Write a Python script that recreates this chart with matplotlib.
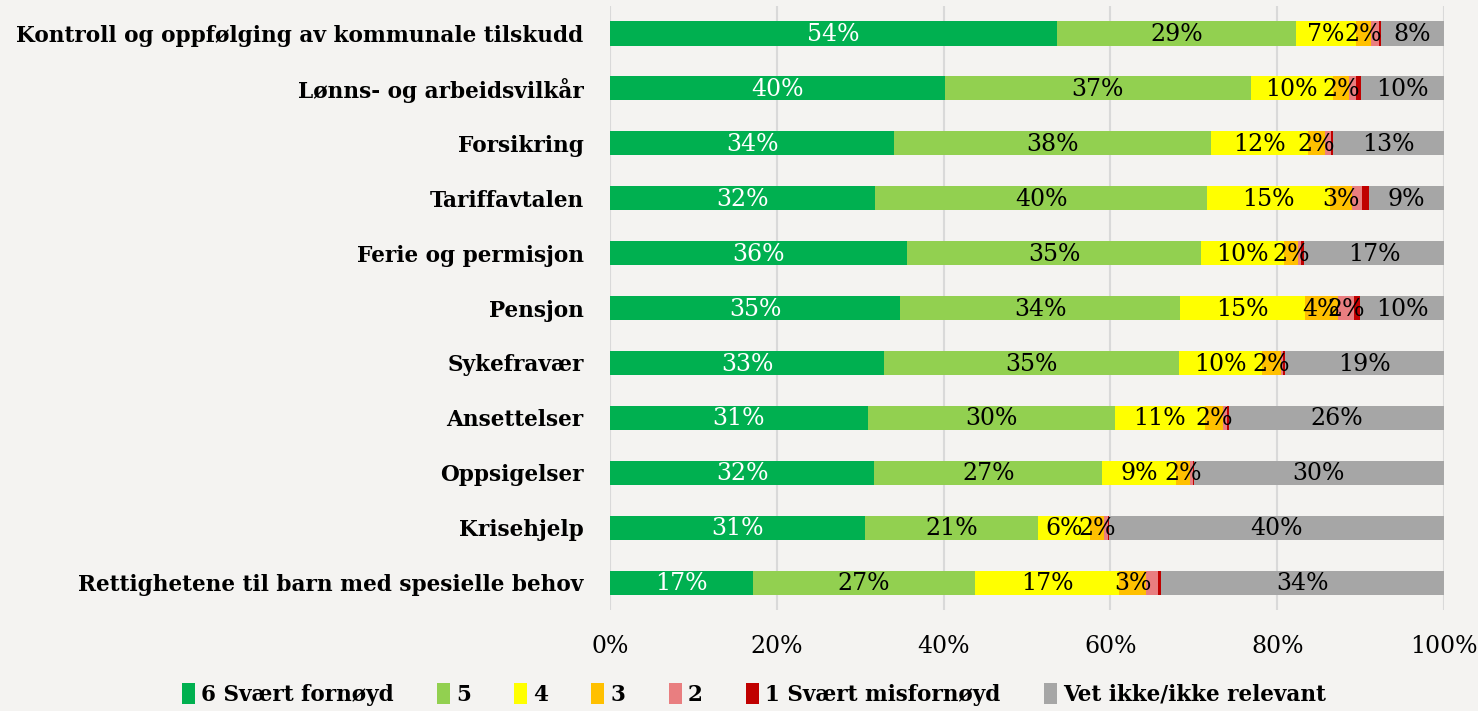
import matplotlib
matplotlib.use('Agg')
import matplotlib.pyplot as plt
import numpy as np

categories = [
    'Kontroll og oppfølging av kommunale tilskudd',
    'Lønns- og arbeidsvilkår',
    'Forsikring',
    'Tariffavtalen',
    'Ferie og permisjon',
    'Pensjon',
    'Sykefravær',
    'Ansettelser',
    'Oppsigelser',
    'Krisehjelp',
    'Rettighetene til barn med spesielle behov',
]

series_names = ['6 Svært fornøyd', '5', '4', '3', '2', '1 Svært misfornøyd', 'Vet ikke/ikke relevant']

# percentages per category, one list per series
s6 = [53.6, 40.2, 34.1, 31.8, 35.6, 34.8, 32.9, 30.9, 31.7, 30.6, 17.1]
s5 = [28.6, 36.6, 38.0, 39.8, 35.3, 33.6, 35.3, 29.6, 27.3, 20.7, 26.7]
s4 = [7.2, 9.9, 11.6, 14.7, 9.9, 14.9, 10.0, 10.8, 8.9, 6.3, 17.2]
s3 = [1.8, 1.9, 2.0, 2.7, 1.7, 4.0, 2.2, 2.2, 1.6, 1.6, 3.3]
s2 = [1.0, 0.8, 0.8, 1.2, 0.3, 1.9, 0.3, 0.5, 0.4, 0.5, 1.4]
s1 = [0.2, 0.7, 0.2, 0.8, 0.4, 0.7, 0.2, 0.2, 0.1, 0.1, 0.4]
vet_ikke = [7.6, 9.9, 13.3, 9.0, 16.8, 10.1, 19.1, 25.8, 30.0, 40.2, 33.9]

colors = ['#00B050', '#92D050', '#FFFF00', '#FFC000', '#E97E80', '#C00000', '#A6A6A6']
text_colors = ['white', 'black', 'black', 'black', 'black', 'black', 'black']

all_series = [s6, s5, s4, s3, s2, s1, vet_ikke]

bg = '#F4F3F1'
fig = plt.figure(figsize=(14.78, 7.11), dpi=100, facecolor=bg)
ax = fig.add_axes([0.4127, 0.142, 0.5643, 0.8495], facecolor=bg)

y = np.arange(len(categories))
left = np.zeros(len(categories))
for name, vals, col, tcol in zip(series_names, all_series, colors, text_colors):
    vals = np.array(vals)
    ax.barh(y, vals, left=left, height=0.44, color=col, label=name, zorder=3)
    for yi, (l, v) in enumerate(zip(left, vals)):
        if v >= 1.5:
            ax.text(l + v / 2, yi + 0.02, f'{v:.0f}%', ha='center', va='center',
                    color=tcol, fontsize=17, family='DejaVu Serif', zorder=4)
    left += vals

ax.set_xlim(0, 100)
ax.set_ylim(len(categories) - 0.5, -0.5)
ax.set_yticks(y)
ax.set_yticklabels(categories, fontsize=15.6, fontweight='bold', family='DejaVu Serif')
ax.set_xticks(np.arange(0, 101, 20))
ax.set_xticklabels([f'{t}%' for t in range(0, 101, 20)], fontsize=17, family='DejaVu Serif')
ax.tick_params(axis='both', length=0)
ax.tick_params(axis='y', pad=19)
ax.tick_params(axis='x', pad=18)
ax.grid(axis='x', color='#D9D9D9', linewidth=1.5, zorder=0)
for sp in ax.spines.values():
    sp.set_visible(False)

leg = fig.legend(loc='lower center', bbox_to_anchor=(0.51, -0.02), ncol=7, frameon=False,
                 prop={'family': 'DejaVu Serif', 'weight': 'bold', 'size': 15.5},
                 handlelength=0.6, handleheight=1.1, handletextpad=0.3, columnspacing=2.0)

fig.savefig('out.png', dpi=100, facecolor=bg)
